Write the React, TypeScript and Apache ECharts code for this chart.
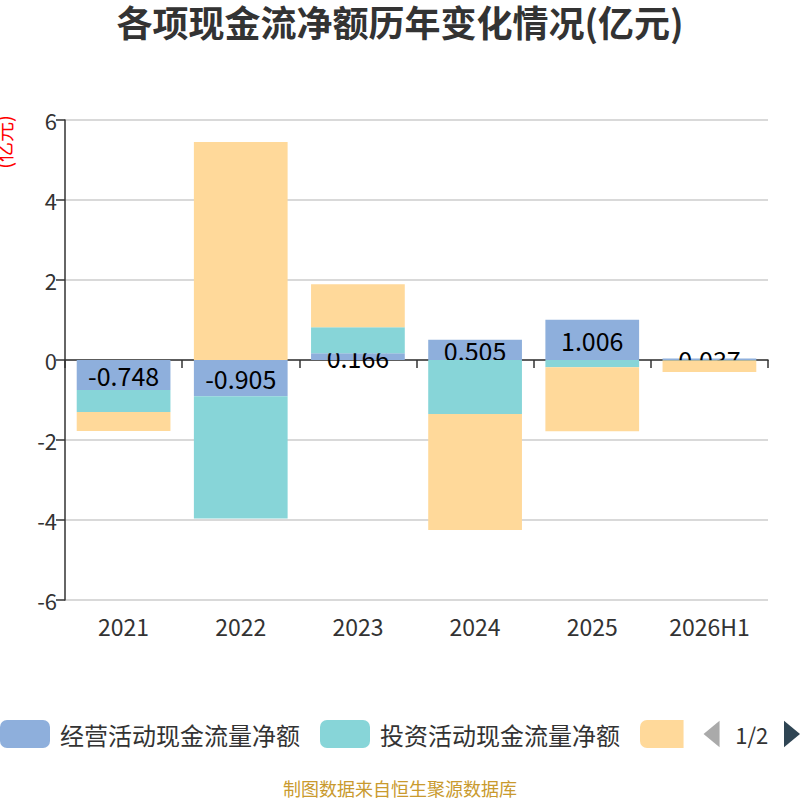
import { useEffect, useRef } from "react";
import * as echarts from "echarts";

const years = ["2021", "2022", "2023", "2024", "2025", "2026H1"];
const operating = [-0.748, -0.905, 0.166, 0.505, 1.006, 0.037];
const investing = [-0.55, -3.06, 0.65, -1.35, -0.18, -0.01];
const financing = [-0.48, 5.45, 1.08, -2.9, -1.6, -0.29];
const seriesNames = ["经营活动现金流量净额", "投资活动现金流量净额", "筹资活动现金流量净额"];
const colors = ["#8EAFDC", "#87D5D8", "#FFD99A"];

const font = "'Noto Sans CJK SC', 'Noto Sans', sans-serif";

export default function App() {
  const ref = useRef<HTMLDivElement | null>(null);

  useEffect(() => {
    document.body.style.margin = "0";
    const el = ref.current!;
    const chart = echarts.init(el, null, { renderer: "svg" });
    const data = [operating, investing, financing];

    chart.setOption({
      animation: false,
      textStyle: { fontFamily: font },
      color: colors,
      title: [
        {
          text: "各项现金流净额历年变化情况(亿元)",
          left: "center",
          top: -2,
          textStyle: { fontSize: 36, fontWeight: "bold", color: "#333", fontFamily: font },
        },
        {
          text: "制图数据来自恒生聚源数据库",
          left: "center",
          top: 774,
          textStyle: { fontSize: 18, fontWeight: "normal", color: "#C99A2E", fontFamily: font },
        },
      ],
      legend: {
        type: "scroll",
        left: 0,
        right: 0,
        top: 715,
        padding: [5, 0, 5, 0],
        itemWidth: 50,
        itemHeight: 28,
        itemGap: 20,
        icon: "roundRect",
        textStyle: { fontSize: 24, color: "#333", padding: [0, 0, 0, 5], fontFamily: font },
        pageIconSize: [16, 30],
        pageButtonItemGap: 6,
        pageIconColor: "#2f4554",
        pageIconInactiveColor: "#aaa",
        pageTextStyle: { fontSize: 22, color: "#333", fontFamily: font },
        data: seriesNames,
      },
      grid: { left: 65, right: 32, top: 120, bottom: 200 },
      xAxis: [
        {
          type: "category",
          data: years,
          position: "bottom",
          axisLine: { show: false, onZero: false },
          axisTick: { show: false },
          axisLabel: { fontSize: 23, color: "#333", margin: 14 },
        },
        {
          type: "category",
          data: years,
          position: "bottom",
          axisLine: { show: true, onZero: true, lineStyle: { color: "#333", width: 1.5 } },
          axisTick: { show: true, length: 8, lineStyle: { color: "#333", width: 1.5 } },
          axisLabel: { show: false },
        },
      ],
      yAxis: {
        type: "value",
        min: -6,
        max: 6,
        interval: 2,
        axisLine: { show: true, lineStyle: { color: "#333", width: 1.5 } },
        axisTick: { show: true, length: 9, lineStyle: { color: "#333", width: 1.5 } },
        axisLabel: { fontSize: 22, color: "#333", margin: 8 },
        splitLine: { lineStyle: { color: "#ccc", width: 1.5 } },
      },
      graphic: [
        {
          type: "text",
          x: 3,
          y: 142,
          rotation: Math.PI / 2,
          style: {
            text: "(亿元)",
            fill: "red",
            fontSize: 20,
            fontFamily: font,
            align: "center",
            verticalAlign: "middle",
          },
        },
      ],
      series: seriesNames.map((name, i) => ({
        name,
        type: "bar",
        stack: "total",
        xAxisIndex: 0,
        z: 2 + i,
        barWidth: "80%",
        data: data[i],
        label:
          i === 0
            ? {
                show: true,
                position: "inside",
                fontSize: 25,
                color: "#000",
                fontFamily: font,
                formatter: (p: any) => p.value.toFixed(3),
              }
            : { show: false },
      })),
    });

    return () => chart.dispose();
  }, []);

  return <div ref={ref} style={{ width: 800, height: 800 }} />;
}
